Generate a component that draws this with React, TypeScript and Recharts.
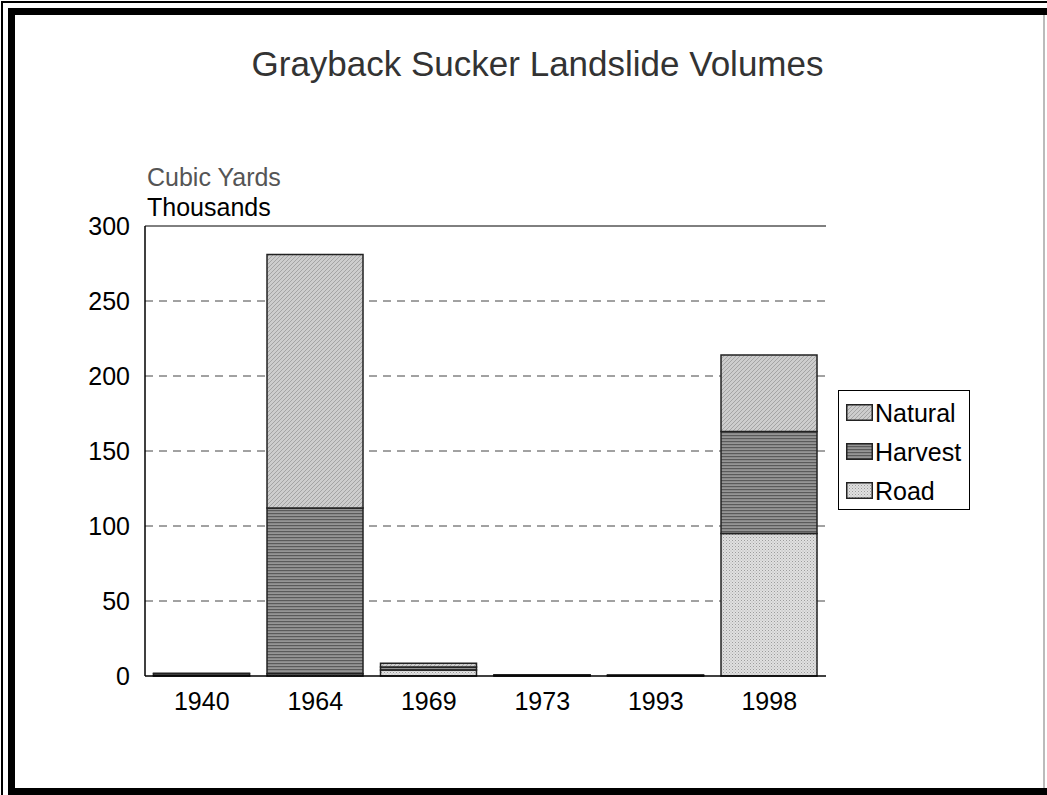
import React from "react";
import { BarChart, Bar, XAxis, YAxis, CartesianGrid, ReferenceLine } from "recharts";

const years = ["1940", "1964", "1969", "1973", "1993", "1998"];
const road = [0.2, 1.5, 4, 0.2, 0.2, 95];
const harvest = [1.3, 110.5, 2, 0.5, 0.3, 68];
const natural = [0.3, 169, 2.5, 0.2, 0.1, 51];
const yTicks = [0, 50, 100, 150, 200, 250, 300];
const gridValues = [50, 100, 150, 200, 250];

const data = years.map((y, i) => ({ year: y, Road: road[i], Harvest: harvest[i], Natural: natural[i] }));

const FONT = "'Liberation Sans', Arial, sans-serif";

const legendItems = [
  { name: "Natural", fill: "url(#patNatural)" },
  { name: "Harvest", fill: "url(#patHarvest)" },
  { name: "Road", fill: "url(#patRoad)" },
];

export default function App() {
  return (
    <div style={{ position: "fixed", left: 0, top: 0, width: 1047, height: 795, background: "#fff", fontFamily: FONT, overflow: "hidden" }}>
      <svg width={0} height={0} style={{ position: "absolute" }}>
        <defs>
          <pattern id="patNatural" width="4" height="4" patternUnits="userSpaceOnUse">
            <rect width="4" height="4" fill="#cdcdcd" />
            <path d="M0,4 L4,0 M-1,1 L1,-1 M3,5 L5,3" stroke="#a4a4a4" strokeWidth="1" />
          </pattern>
          <pattern id="patHarvest" width="4" height="3" patternUnits="userSpaceOnUse">
            <rect width="4" height="3" fill="#959595" />
            <rect y="0" width="4" height="1.2" fill="#5a5a5a" />
          </pattern>
          <pattern id="patRoad" width="3" height="3" patternUnits="userSpaceOnUse">
            <rect width="3" height="3" fill="#e0e0e0" />
            <rect x="0" y="0" width="1" height="1" fill="#9c9c9c" />
            <rect x="1.5" y="1.5" width="1" height="1" fill="#b0b0b0" />
          </pattern>
        </defs>
      </svg>

      <BarChart
        width={1047}
        height={795}
        data={data}
        margin={{ top: 226, right: 221, bottom: 89, left: 0 }}
        barCategoryGap="7.5%"
      >
        <CartesianGrid vertical={false} horizontalValues={gridValues} stroke="#444" strokeDasharray="8 6" />
        <YAxis
          domain={[0, 300]}
          ticks={yTicks}
          width={145}
          tickLine={false}
          axisLine={{ stroke: "#000", strokeWidth: 1.5 }}
          tickMargin={9}
          tick={{ fill: "#000", fontSize: 25, fontFamily: FONT }}
          interval={0}
        />
        <YAxis
          yAxisId="r"
          orientation="right"
          width={0}
          domain={[0, 300]}
          tick={false}
          tickLine={false}
          axisLine={{ stroke: "#000", strokeWidth: 1 }}
        />
        <XAxis
          dataKey="year"
          height={30}
          tickLine={false}
          axisLine={{ stroke: "#000", strokeWidth: 1.5 }}
          tickMargin={10}
          tick={{ fill: "#000", fontSize: 25, fontFamily: FONT }}
          interval={0}
        />
        <ReferenceLine y={300} stroke="#000" strokeWidth={1} />
        <Bar dataKey="Road" stackId="a" fill="url(#patRoad)" stroke="#222" strokeWidth={1.5} isAnimationActive={false} />
        <Bar dataKey="Harvest" stackId="a" fill="url(#patHarvest)" stroke="#222" strokeWidth={1.5} isAnimationActive={false} />
        <Bar dataKey="Natural" stackId="a" fill="url(#patNatural)" stroke="#222" strokeWidth={1.5} isAnimationActive={false} />
      </BarChart>

      <div style={{ position: "absolute", left: 0, width: 1075, top: 44, textAlign: "center", fontSize: 35, color: "#333", lineHeight: "40px", whiteSpace: "nowrap" }}>
        Grayback Sucker Landslide Volumes
      </div>
      <div style={{ position: "absolute", left: 147, top: 163, fontSize: 25, color: "#555", lineHeight: "28px", whiteSpace: "nowrap" }}>Cubic Yards</div>
      <div style={{ position: "absolute", left: 147, top: 193, fontSize: 25, color: "#000", lineHeight: "28px", whiteSpace: "nowrap" }}>Thousands</div>

      <div style={{ position: "absolute", left: 838, top: 390, width: 132, height: 120, border: "1px solid #000", boxSizing: "border-box", paddingTop: 2 }}>
        {legendItems.map((it) => (
          <div key={it.name} style={{ display: "flex", alignItems: "center", height: 39, paddingLeft: 7 }}>
            <svg width={27} height={17} style={{ marginRight: 2 }}>
              <rect x={0.75} y={0.75} width={25.5} height={15.5} fill={it.fill} stroke="#222" strokeWidth={1.5} />
            </svg>
            <span style={{ fontSize: 25, color: "#000", lineHeight: "28px", whiteSpace: "nowrap" }}>{it.name}</span>
          </div>
        ))}
      </div>

      <div style={{ position: "absolute", left: 1, top: 1, width: 1046, height: 2, background: "#000" }} />
      <div style={{ position: "absolute", left: 1, top: 1, width: 2, height: 794, background: "#000" }} />
      <div style={{ position: "absolute", left: 8, top: 8, width: 1039, height: 7, background: "#000" }} />
      <div style={{ position: "absolute", left: 8, top: 8, width: 7, height: 787, background: "#000" }} />
      <div style={{ position: "absolute", left: 8, top: 788, width: 1039, height: 7, background: "#000" }} />
      <div style={{ position: "absolute", left: 1043, top: 15, width: 2, height: 773, background: "#bbb" }} />
    </div>
  );
}
